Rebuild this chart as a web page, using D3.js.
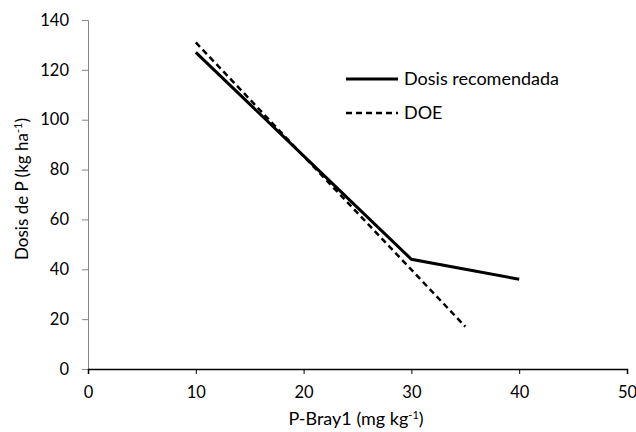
<!DOCTYPE html>
<html>
<head>
<meta charset="utf-8">
<script src="https://cdn.jsdelivr.net/npm/d3@7"></script>
<style>
  body { margin: 0; background: #fff; }
  svg text { font-family: Lato, "Open Sans", sans-serif; fill: #000; }
</style>
</head>
<body>
<div id="chart"></div>
<script>
// data
var xTicks = [0, 10, 20, 30, 40, 50];
var yTicks = [0, 20, 40, 60, 80, 100, 120, 140];
var dosisX = [10, 20, 30, 40];
var dosisY = [127, 85.5, 44, 36];
var doeX = [10, 35];
var doeY = [131, 17];
var seriesNames = ["Dosis recomendada", "DOE"];

var W = 636, H = 432;
var margin = {left: 88, top: 20, right: 9, bottom: 63};

var svg = d3.select("#chart").append("svg")
    .attr("width", W)
    .attr("height", H);

var x = d3.scaleLinear().domain([0, 50]).range([margin.left, W - margin.right]);
var y = d3.scaleLinear().domain([0, 140]).range([H - margin.bottom, margin.top]);

// y axis (grey)
var yAxis = svg.append("g")
    .attr("transform", "translate(" + margin.left + ",0)")
    .call(d3.axisLeft(y).tickValues(yTicks).tickSize(6).tickPadding(13));
yAxis.selectAll("path, line").attr("stroke", "#868686");
yAxis.selectAll("text").style("font-size", "16.5px");

// x axis (black)
var xAxis = svg.append("g")
    .attr("transform", "translate(0," + y(0) + ")")
    .call(d3.axisBottom(x).tickValues(xTicks).tickSize(5).tickPadding(12));
xAxis.select("path").attr("stroke", "#000").attr("stroke-width", 1.5);
xAxis.selectAll("line").attr("stroke", "#000");
xAxis.selectAll("text").style("font-size", "16.5px");

// lines
var line = d3.line()
    .x(function(d) { return x(d[0]); })
    .y(function(d) { return y(d[1]); });

var dosis = d3.zip(dosisX, dosisY);
var doe = d3.zip(doeX, doeY);

svg.append("path")
    .datum(dosis)
    .attr("d", line)
    .attr("fill", "none")
    .attr("stroke", "#000")
    .attr("stroke-width", 3);

svg.append("path")
    .datum(doe)
    .attr("d", line)
    .attr("fill", "none")
    .attr("stroke", "#000")
    .attr("stroke-width", 2.5)
    .attr("stroke-dasharray", "6,4");

// legend
var legend = svg.append("g").attr("transform", "translate(346,79)");
seriesNames.forEach(function(name, i) {
    var g = legend.append("g").attr("transform", "translate(0," + (i * 34) + ")");
    g.append("line")
        .attr("x1", 0).attr("x2", 52)
        .attr("stroke", "#000")
        .attr("stroke-width", i == 0 ? 3 : 2.5)
        .attr("stroke-dasharray", i == 0 ? null : "6,4");
    g.append("text")
        .attr("x", 58)
        .attr("dy", "0.35em")
        .style("font-size", "18px")
        .text(name);
});

// axis titles
var yt = svg.append("text")
    .attr("transform", "translate(28,189) rotate(-90)")
    .attr("text-anchor", "middle")
    .style("font-size", "17px");
yt.append("tspan").text("Dosis de P (kg ha");
yt.append("tspan").attr("dy", "-6").style("font-size", "11px").text("-1");
yt.append("tspan").attr("dy", "6").text(")");

var xt = svg.append("text")
    .attr("x", 356)
    .attr("y", 425)
    .attr("text-anchor", "middle")
    .style("font-size", "18px");
xt.append("tspan").text("P-Bray1 (mg kg");
xt.append("tspan").attr("dy", "-6").style("font-size", "11px").text("-1");
xt.append("tspan").attr("dy", "6").text(")");
</script>
</body>
</html>
